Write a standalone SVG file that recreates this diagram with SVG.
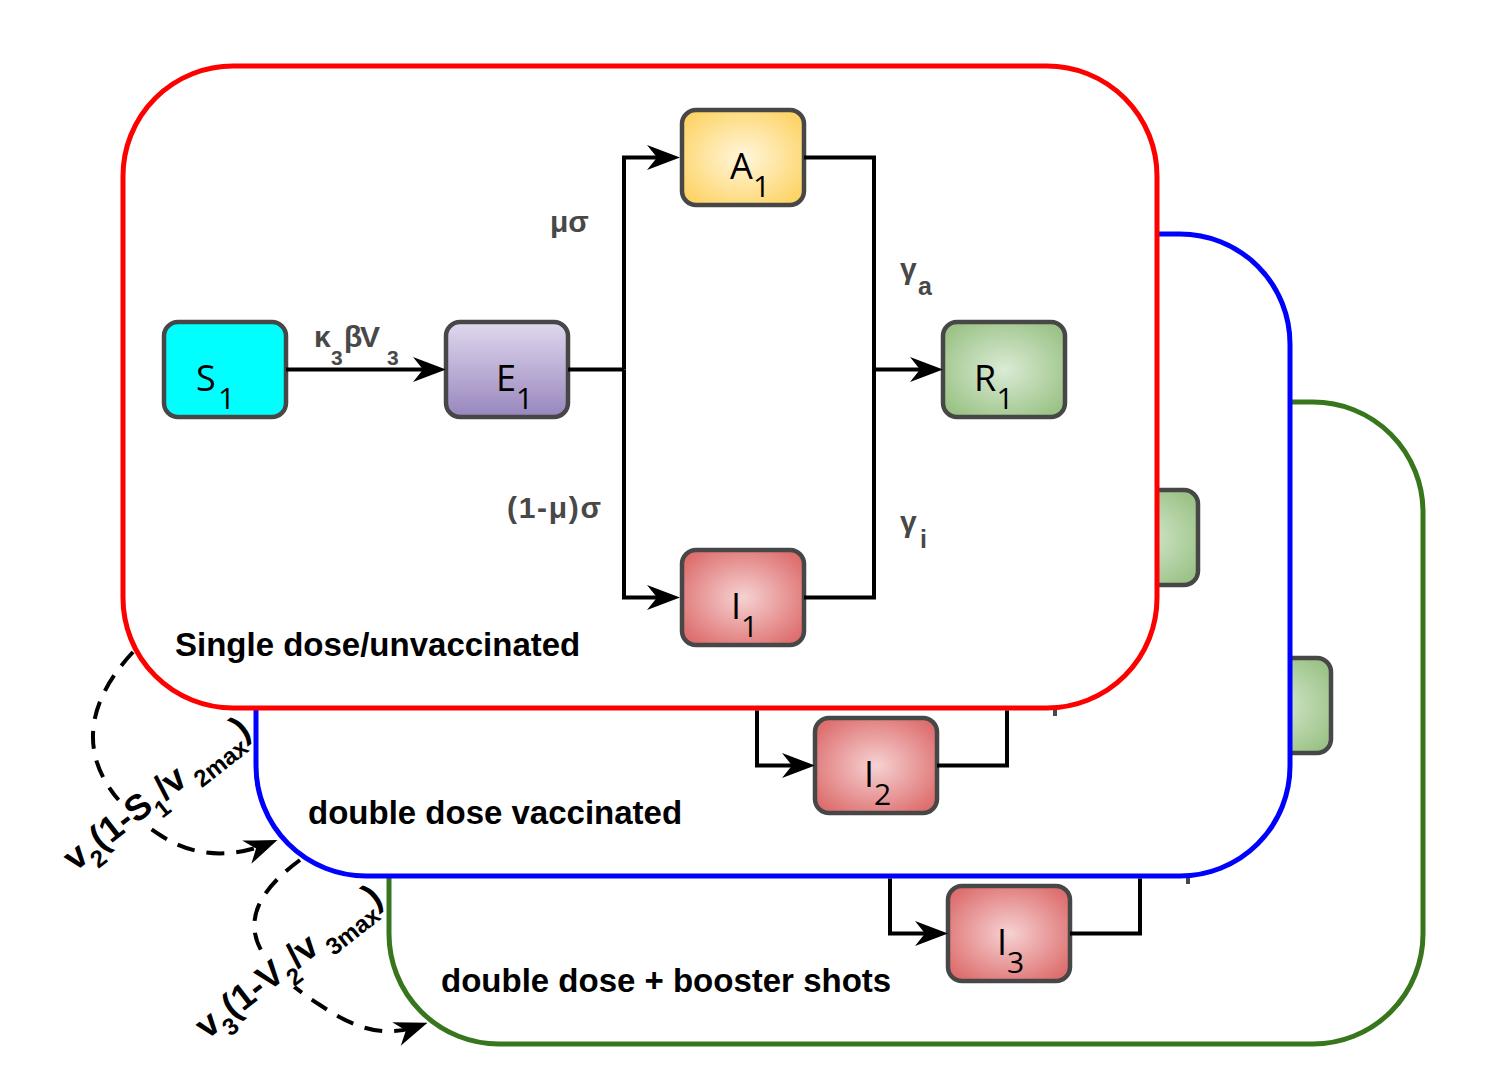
<svg xmlns="http://www.w3.org/2000/svg" width="1502" height="1090" viewBox="0 0 1502 1090">
<defs>
<style>
.frame{fill:#fff;stroke-width:5}
.node{stroke:#474747;stroke-width:4.5}
.nl{font-family:"Open Sans","DejaVu Sans",sans-serif;font-size:36px;fill:#000}
.sb{font-size:30px}
.rate{font-family:"Liberation Sans",Arial,sans-serif;font-weight:bold;font-size:30px;fill:#484848}
.title{font-family:"Liberation Sans",Arial,sans-serif;font-weight:bold;font-size:33px;fill:#000}
.edge{fill:none;stroke:#000;stroke-width:4;stroke-linejoin:miter;stroke-linecap:butt}
.dash{fill:none;stroke:#000;stroke-width:4;stroke-dasharray:18 12}
.vl{font-family:"Liberation Sans",Arial,sans-serif;font-weight:bold;font-size:36px;fill:#000}
.tick{fill:#484848}
</style>
<linearGradient id="gE" x1="0" y1="0" x2="0" y2="1"><stop offset="0" stop-color="#e0d8ee"/><stop offset="1" stop-color="#9886bd"/></linearGradient>
<radialGradient id="gA" cx="0.5" cy="0.5" r="0.6"><stop offset="0" stop-color="#fff6dc"/><stop offset="1" stop-color="#fdd468"/></radialGradient>
<radialGradient id="gI" cx="0.5" cy="0.5" r="0.6"><stop offset="0" stop-color="#f6d2d2"/><stop offset="1" stop-color="#de6f6f"/></radialGradient>
<radialGradient id="gR" cx="0.5" cy="0.5" r="0.6"><stop offset="0" stop-color="#dbebd5"/><stop offset="1" stop-color="#9bc387"/></radialGradient>
<marker id="ah" markerUnits="userSpaceOnUse" viewBox="-30 -14 40 28" markerWidth="40" markerHeight="28" refX="0" refY="0" orient="auto"><path d="M8,0 L-25,-12.5 L-15,0 L-25,12.5 Z" fill="#000"/></marker>
</defs>

<!-- layer 3 : booster -->
<g id="frame-booster">
<rect class="frame" x="389" y="402" width="1034" height="642" rx="110" ry="110" stroke="#38761d"/>
<text class="title" x="441" y="992">double dose + booster shots</text>
</g>
<g id="R3"><rect class="node" x="1209" y="658" width="122" height="95" rx="14" fill="url(#gR)"/></g>
<g id="I3"><rect class="node" x="948" y="886" width="122" height="95" rx="14" fill="url(#gI)"/>
<text class="nl" x="997" y="955">I<tspan class="sb" x="1007" y="973">3</tspan></text></g>
<rect class="tick" x="1186" y="862" width="4" height="22"/>

<!-- layer 2 : double dose -->
<g id="frame-double">
<rect class="frame" x="256" y="234" width="1034" height="642" rx="110" ry="110" stroke="#0000ff"/>
<text class="title" x="308" y="824">double dose vaccinated</text>
</g>
<g id="R2"><rect class="node" x="1076" y="490" width="122" height="95" rx="14" fill="url(#gR)"/></g>
<g id="I2"><rect class="node" x="815" y="718" width="122" height="95" rx="14" fill="url(#gI)"/>
<text class="nl" x="864" y="787">I<tspan class="sb" x="874" y="805">2</tspan></text></g>
<rect class="tick" x="1053" y="694" width="4" height="22"/>

<!-- layer 1 : single dose -->
<g id="frame-single">
<rect class="frame" x="123" y="66" width="1034" height="642" rx="110" ry="110" stroke="#ff0000"/>
<text class="title" x="175" y="656">Single dose/unvaccinated</text>
</g>
<g id="S1"><rect class="node" x="164" y="322" width="122" height="95" rx="14" fill="#00ffff"/>
<text class="nl" x="196" y="391">S<tspan class="sb" x="218" y="409">1</tspan></text></g>
<g id="E1"><rect class="node" x="446" y="322" width="122" height="95" rx="14" fill="url(#gE)"/>
<text class="nl" x="496" y="391">E<tspan class="sb" x="516" y="409">1</tspan></text></g>
<g id="A1"><rect class="node" x="682" y="110" width="122" height="95" rx="14" fill="url(#gA)"/>
<text class="nl" x="730" y="179">A<tspan class="sb" x="753" y="197">1</tspan></text></g>
<g id="I1"><rect class="node" x="682" y="550" width="122" height="95" rx="14" fill="url(#gI)"/>
<text class="nl" x="731" y="619">I<tspan class="sb" x="741" y="637">1</tspan></text></g>
<g id="R1"><rect class="node" x="943" y="322" width="122" height="95" rx="14" fill="url(#gR)"/>
<text class="nl" x="974" y="391">R<tspan class="sb" x="996.5" y="409">1</tspan></text></g>

<g id="connectors">
<path class="edge" d="M286,369.5 H438" marker-end="url(#ah)"/>
<path class="edge" d="M568,369.5 H624"/>
<path class="edge" d="M624,369.5 V157.5 H672" marker-end="url(#ah)"/>
<path class="edge" d="M624,369.5 V597.5 H672" marker-end="url(#ah)"/>
<path class="edge" d="M804,157.5 H874 V369.5"/>
<path class="edge" d="M804,597.5 H874 V369.5"/>
<path class="edge" d="M872,369.5 H935" marker-end="url(#ah)"/>
<path class="edge" d="M757,710.5 V765.5 H807" marker-end="url(#ah)"/>
<path class="edge" d="M937,765.5 H1007 V710.5"/>
<path class="edge" d="M890,878.5 V933.5 H940" marker-end="url(#ah)"/>
<path class="edge" d="M1070,933.5 H1140 V878.5"/>

<text class="rate" x="314" y="347">κ<tspan x="331" y="365" font-size="21">3</tspan><tspan x="344" y="347">β</tspan><tspan x="360" y="347">V</tspan><tspan x="387" y="365" font-size="21">3</tspan></text>
<text class="rate" x="550" y="232">μσ</text>
<text class="rate" x="507" y="518" textLength="94" lengthAdjust="spacing">(1-μ)σ</text>
<text class="rate" x="900" y="279">γ<tspan x="918" y="295" font-size="25">a</tspan></text>
<text class="rate" x="900" y="532">γ<tspan x="920" y="548" font-size="25">i</tspan></text>

<path class="dash" d="M133,652 C65,725 90,790 160,835 C195,858 232,858 270,843" marker-end="url(#ah)"/>
<path class="dash" d="M300,860 C225,915 250,960 320,1005 C350,1025 380,1040 420,1025.5" marker-end="url(#ah)"/>

<g transform="translate(75,872) rotate(-38)">
<rect x="40" y="-30" width="100" height="42" fill="#fff"/>
<text class="vl" x="0" y="0">v<tspan dy="12" font-size="24">2</tspan><tspan dy="-12">(1-S</tspan><tspan dy="12" font-size="24">1</tspan><tspan dy="-12">/v</tspan><tspan dy="12" font-size="24"> 2max</tspan><tspan dy="-12">)</tspan></text>
</g>
<g transform="translate(207,1040) rotate(-38)">
<rect x="40" y="-30" width="100" height="42" fill="#fff"/>
<text class="vl" x="0" y="0">v<tspan dy="12" font-size="24">3</tspan><tspan dy="-12">(1-V</tspan><tspan dy="12" font-size="24">2</tspan><tspan dy="-12">/v</tspan><tspan dy="12" font-size="24"> 3max</tspan><tspan dy="-12">)</tspan></text>
</g>
</g>
</svg>
